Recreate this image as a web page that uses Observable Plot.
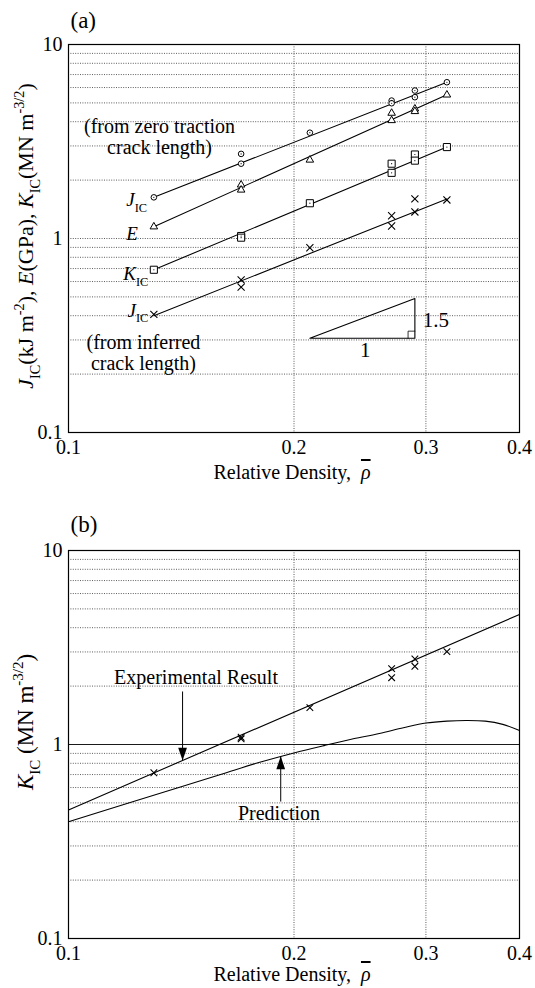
<!DOCTYPE html>
<html>
<head>
<meta charset="utf-8">
<script src="https://cdn.jsdelivr.net/npm/d3@7"></script>
<script src="https://cdn.jsdelivr.net/npm/@observablehq/plot@0.6"></script>
<style>
  body { margin: 0; background: #fff; }
  #chart { width: 535px; }
  #chart svg { display: block; }
</style>
</head>
<body>
<div id="chart"></div>
<script>
// ---- specimen data: relative density of each tested foam specimen ----
const rho = [0.13, 0.17, 0.17, 0.21, 0.27, 0.27, 0.29, 0.29, 0.32];

// (a) properties versus relative density
const jicZeroTraction = [1.63, 2.73, 2.43, 3.51, 5.14, 4.98, 5.79, 5.35, 6.39]; // kJ m^-2
const modulusE        = [1.15, 1.89, 1.78, 2.54, 4.43, 4.06, 4.66, 4.52, 5.50]; // GPa
const kicA            = [0.69, 1.03, 1.01, 1.52, 2.43, 2.18, 2.71, 2.52, 2.96]; // MN m^-3/2
const jicInferred     = [0.406, 0.612, 0.561, 0.896, 1.31, 1.16, 1.60, 1.37, 1.58]; // kJ m^-2

// power-law fit lines drawn over the tested range
const fitRho         = [0.13, 0.32];
const fitJicZero     = [1.63, 6.39];
const fitE           = [1.15, 5.50];
const fitKic         = [0.69, 2.96];
const fitJicInferred = [0.40, 1.60];

// slope triangle (gradient 1.5) and its right-angle box
const slopeRho = [0.21, 0.29, 0.29, 0.21];
const slopeVal = [0.306, 0.306, 0.49, 0.306];
const boxRho   = [0.284, 0.284, 0.29];
const boxVal   = [0.306, 0.333, 0.333];

// (b) fracture toughness: experiment against prediction
const kicB       = [0.715, 1.09, 1.07, 1.55, 2.46, 2.21, 2.76, 2.53, 3.01];
const expFitRho  = [0.1, 0.4];
const expFitKic  = [0.46, 4.68];
const predRho = [0.10, 0.12, 0.14, 0.16, 0.18, 0.20, 0.22, 0.24, 0.26, 0.28, 0.30, 0.32, 0.34, 0.36, 0.38, 0.40];
const predKic = [0.40, 0.498, 0.599, 0.703, 0.81, 0.905, 0.99, 1.07, 1.14, 1.22, 1.29, 1.32, 1.33, 1.32, 1.27, 1.18];

// annotation arrows in (b): shaft start / tip
const arrowRho  = [0.142, 0.192];
const arrowFrom = [1.876, 0.508];
const arrowTip  = [0.826, 0.87];
const arrowTurn = [180, 0];

// axes
const xTicks = [0.1, 0.2, 0.3, 0.4];
const yTicks = [0.1, 1, 10];
const xGrid  = [0.2, 0.3];
const yGridA = [0.2, 0.3, 0.4, 0.5, 0.6, 0.7, 0.8, 0.9, 1, 2, 3, 4, 5, 6, 7, 8, 9];
const yGridB = [0.2, 0.3, 0.4, 0.5, 0.6, 0.7, 0.8, 0.9, 2, 3, 4, 5, 6, 7, 8, 9];

// plain-text notes
const noteTextA = ["(from zero traction\ncrack length)", "(from inferred\ncrack length)"];
const noteRhoA  = [0.1323, 0.1259];
const noteValA  = [2.74, 0.209];
const riseText = ["1.5"], riseRho = [0.297], riseVal = [0.378];
const runText  = ["1"],   runRho  = [0.249], runVal  = [0.264];
const noteTextB = ["Experimental Result", "Prediction"];
const noteRhoB  = [0.148, 0.191];
const noteValB  = [2.04, 0.41];

// series labels in (a) (with subscripts)
const seriesLabels = [
  [{t: "J", i: true}, {t: "IC", sub: true}],
  [{t: "E", i: true}],
  [{t: "K", i: true}, {t: "IC", sub: true}],
  [{t: "J", i: true}, {t: "IC", sub: true}]
];
const seriesLabelRho = [0.1275, 0.124, 0.128, 0.128];
const seriesLabelVal = [1.462, 0.977, 0.607, 0.393];

const FONT = "Liberation Serif";

// filled arrow head, tip at the origin, body below it
const arrowHead = {
  draw(ctx, size) {
    const k = Math.sqrt(size / Math.PI);
    ctx.moveTo(0, 0);
    ctx.lineTo(-1.25 * k, 3.7 * k);
    ctx.lineTo(1.25 * k, 3.7 * k);
    ctx.closePath();
  }
};

const gridStyle = {stroke: "#333", strokeWidth: 0.8, strokeDasharray: "1,1.4"};
const markerStyle = {stroke: "black", strokeWidth: 1, fill: "white"};

// tick labels only (no tick marks), set in the serif face
function tickLabels() {
  return [
    Plot.text(xTicks, {x: d => d, text: d => String(d), frameAnchor: "bottom", dy: 15,
      lineAnchor: "middle", textAnchor: "middle", fontSize: 20}),
    Plot.text(yTicks, {y: d => d, text: d => String(d), frameAnchor: "left", dx: -6,
      lineAnchor: "middle", textAnchor: "end", fontSize: 20})
  ];
}

function panel(height, marginTop, marginBottom, marks) {
  return Plot.plot({
    width: 535, height, marginTop, marginBottom, marginLeft: 68, marginRight: 16,
    style: {fontFamily: FONT, fontSize: "19px", background: "white", color: "black", overflow: "visible"},
    x: {type: "log", domain: [0.1, 0.4], axis: null},
    y: {type: "log", domain: [0.1, 10], axis: null},
    marks
  });
}

// text with italic / sub / superscript runs
function rich(svg, x, y, parts, {anchor = "start", size = 19, rotate = 0} = {}) {
  const t = d3.select(svg).append("text")
    .attr("transform", `translate(${x},${y})` + (rotate ? ` rotate(${rotate})` : ""))
    .attr("text-anchor", anchor)
    .attr("font-family", FONT)
    .attr("font-size", size)
    .attr("fill", "black")
    .style("white-space", "pre");
  let shift = 0;
  for (const p of parts) {
    const s = typeof p === "string" ? {t: p} : p;
    const target = s.sub ? 0.3 * size : s.sup ? -0.42 * size : 0;
    t.append("tspan")
      .attr("dy", target - shift)
      .attr("font-size", s.sub || s.sup ? size * 0.65 : size)
      .attr("font-style", s.i ? "italic" : null)
      .style("text-decoration", s.over ? "overline" : null)
      .text(s.t);
    shift = target;
  }
}

const densityTitle = ["Relative Density,  ", {t: "ρ", i: true, over: true}];

// ---------- panel (a) ----------
const plotA = panel(490, 44, 58, [
  Plot.ruleY(yGridA, gridStyle),
  Plot.ruleX(xGrid, gridStyle),
  Plot.line(fitJicZero, {x: fitRho, y: fitJicZero, stroke: "black", strokeWidth: 1.1}),
  Plot.line(fitE, {x: fitRho, y: fitE, stroke: "black", strokeWidth: 1.1}),
  Plot.line(fitKic, {x: fitRho, y: fitKic, stroke: "black", strokeWidth: 1.1}),
  Plot.line(fitJicInferred, {x: fitRho, y: fitJicInferred, stroke: "black", strokeWidth: 1.1}),
  Plot.dot(jicZeroTraction, {x: rho, y: jicZeroTraction, symbol: "circle", r: 2.8, ...markerStyle}),
  Plot.dot(jicZeroTraction, {x: rho, y: jicZeroTraction, r: 0.6, fill: "black"}),
  Plot.dot(modulusE, {x: rho, y: modulusE, symbol: "triangle", r: 2.8, ...markerStyle}),
  Plot.dot(kicA, {x: rho, y: kicA, symbol: "square", r: 4, ...markerStyle}),
  Plot.dot(kicA, {x: rho, y: kicA, r: 0.6, fill: "black"}),
  Plot.dot(jicInferred, {x: rho, y: jicInferred, symbol: "times", r: 3.3, stroke: "black", strokeWidth: 1.1}),
  Plot.line(slopeVal, {x: slopeRho, y: slopeVal, stroke: "black", strokeWidth: 1.1}),
  Plot.line(boxVal, {x: boxRho, y: boxVal, stroke: "black", strokeWidth: 0.8}),
  Plot.text(noteTextA, {x: noteRhoA, y: noteValA, text: d => d, fontSize: 20, lineHeight: 1.05,
    textAnchor: "middle", lineAnchor: "bottom"}),
  Plot.text(riseText, {x: riseRho, y: riseVal, text: d => d, fontSize: 21, textAnchor: "start", lineAnchor: "middle"}),
  Plot.text(runText, {x: runRho, y: runVal, text: d => d, fontSize: 21, textAnchor: "middle", lineAnchor: "middle"}),
  Plot.frame({stroke: "black", strokeWidth: 1.2}),
  Plot.text(["(a)"], {frameAnchor: "top-left", dx: 2, dy: -17, lineAnchor: "bottom", textAnchor: "start", fontSize: 23}),
  ...tickLabels()
]);
{
  const sx = plotA.scale("x"), sy = plotA.scale("y");
  seriesLabels.forEach((parts, i) =>
    rich(plotA, sx.apply(seriesLabelRho[i]), sy.apply(seriesLabelVal[i]), parts, {anchor: "end", size: 19}));
  rich(plotA, 33, 236, [
    {t: "J", i: true}, {t: "IC", sub: true}, "(kJ m", {t: "-2", sup: true}, "), ",
    {t: "E", i: true}, "(GPa), ",
    {t: "K", i: true}, {t: "IC", sub: true}, "(MN m", {t: "-3/2", sup: true}, ")"
  ], {anchor: "middle", size: 22, rotate: -90});
  rich(plotA, 292, 479, densityTitle, {anchor: "middle", size: 20});
}

// ---------- panel (b) ----------
const plotB = panel(498, 60, 50, [
  Plot.ruleY(yGridB, gridStyle),
  Plot.ruleX(xGrid, gridStyle),
  Plot.ruleY([1], {stroke: "black", strokeWidth: 0.9}),
  Plot.line(expFitKic, {x: expFitRho, y: expFitKic, stroke: "black", strokeWidth: 1.1}),
  Plot.line(predKic, {x: predRho, y: predKic, stroke: "black", strokeWidth: 1.1, curve: "catmull-rom"}),
  Plot.dot(kicB, {x: rho, y: kicB, symbol: "times", r: 3.1, stroke: "black", strokeWidth: 1.1}),
  Plot.link(arrowRho, {x1: arrowRho, x2: arrowRho, y1: arrowFrom, y2: arrowTip, stroke: "black", strokeWidth: 1}),
  Plot.dot(arrowRho, {x: arrowRho, y: arrowTip, rotate: arrowTurn, symbol: arrowHead, r: 3.5, fill: "black", stroke: "none"}),
  Plot.text(noteTextB, {x: noteRhoB, y: noteValB, text: d => d, fontSize: 20, textAnchor: "middle", lineAnchor: "bottom"}),
  Plot.frame({stroke: "black", strokeWidth: 1.2}),
  Plot.text(["(b)"], {frameAnchor: "top-left", dx: 2, dy: -19, lineAnchor: "bottom", textAnchor: "start", fontSize: 23}),
  ...tickLabels()
]);
{
  rich(plotB, 33, 232, [
    {t: "K", i: true}, {t: "IC", sub: true}, " (MN m", {t: "-3/2", sup: true}, ")"
  ], {anchor: "middle", size: 23, rotate: -90});
  rich(plotB, 292, 491, densityTitle, {anchor: "middle", size: 20});
}

document.getElementById("chart").append(plotA, plotB);
</script>
</body>
</html>
